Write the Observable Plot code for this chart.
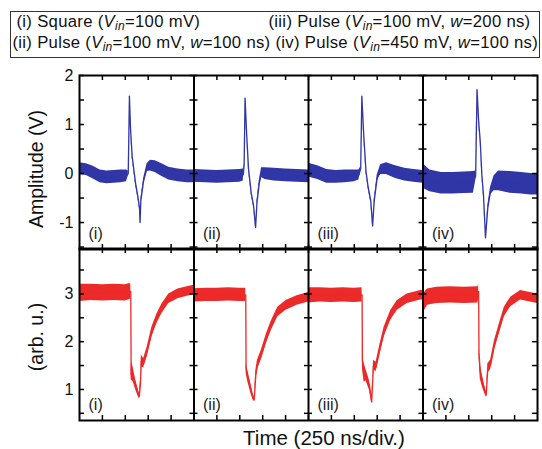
<!DOCTYPE html>
<html>
<head>
<meta charset="utf-8">
<script src="https://cdn.jsdelivr.net/npm/d3@7"></script>
<script src="https://cdn.jsdelivr.net/npm/@observablehq/plot@0.6"></script>
<style>
  html, body { margin: 0; padding: 0; background: #fff; overflow: hidden; width: 542px; height: 449px; }
  body { position: relative; font-family: "Liberation Sans", Arial, sans-serif; color: #111; }
  .abs { position: absolute; white-space: nowrap; }
  #legend { position: absolute; left: 10px; top: 11px; width: 528px; height: 45px; border: 1.5px solid #333; }
  #legend .t { position: absolute; font-size: 16.7px; line-height: 16.7px; white-space: nowrap; letter-spacing: 0.3px; }
  sub { font-size: 0.72em; position: relative; top: 0.28em; vertical-align: baseline; font-style: italic; }
  .plotbox { position: absolute; left: 0; }
</style>
</head>
<body>
<div id="legend">
  <div class="t" style="left:5.5px; top:2px">(i) Square (<i>V</i><sub>in</sub>=100 mV)</div>
  <div class="t" style="left:257.5px; top:2px">(iii) Pulse (<i>V</i><sub>in</sub>=100 mV, <i>w</i>=200 ns)</div>
  <div class="t" style="left:1.5px; top:23px">(ii) Pulse (<i>V</i><sub>in</sub>=100 mV, <i>w</i>=100 ns) (iv) Pulse (<i>V</i><sub>in</sub>=450 mV, <i>w</i>=100 ns)</div>
</div>
<div id="top" class="plotbox" style="top:60px"></div>
<div id="bot" class="plotbox" style="top:240px"></div>
<div class="abs" style="left:37px; top:169px; font-size:19.5px; line-height:19.5px; transform: translate(-50%,-50%) rotate(-90deg);">Amplitude (V)</div>
<div class="abs" style="left:37px; top:337px; font-size:19.5px; line-height:19.5px; transform: translate(-50%,-50%) rotate(-90deg);">(arb. u.)</div>
<div class="abs" style="left:324px; top:428px; font-size:20.5px; line-height:20.5px; transform: translateX(-50%);">Time (250 ns/div.)</div>
<script>
// ---------- data ----------
const panelLabels = ["(i)", "(ii)", "(iii)", "(iv)"];
const divisionsPerPanel = 5;           // 250 ns per division
const ampTickLabels = [-1, 0, 1, 2];
const arbTickLabels = [1, 2, 3];
const ampDomain = [-1.55, 2];
const arbDomain = [0.35, 3.95];

// each entry: [time (div), centre value, noise half-width]
const ampI = [
  [0, 0.10, 0.12], [0.3, 0.08, 0.12], [0.6, 0.02, 0.13], [0.9, -0.06, 0.13], [1.2, -0.08, 0.13],
  [1.5, -0.07, 0.13], [1.8, -0.06, 0.13], [2.05, -0.05, 0.12], [2.13, 0.0, 0.05], [2.18, 1.58, 0.02],
  [2.23, 0.9, 0.03], [2.30, 0.35, 0.03], [2.45, -0.2, 0.03], [2.56, -0.5, 0.03], [2.62, -0.7, 0.03],
  [2.645, -1.0, 0.02], [2.68, -0.55, 0.04], [2.8, -0.15, 0.05], [2.95, 0.12, 0.08], [3.1, 0.16, 0.11],
  [3.3, 0.14, 0.12], [3.6, 0.07, 0.13], [3.9, 0.0, 0.13], [4.3, -0.04, 0.13], [4.7, -0.06, 0.13], [5.0, -0.06, 0.13]
];
const ampII = [
  [0, -0.05, 0.13], [0.5, -0.06, 0.13], [1.0, -0.07, 0.13], [1.5, -0.06, 0.13], [2.0, -0.05, 0.13],
  [2.15, -0.03, 0.12], [2.19, 0.18, 0.03], [2.23, 1.54, 0.02], [2.3, 0.8, 0.03], [2.38, 0.1, 0.03],
  [2.5, -0.4, 0.03], [2.6, -0.65, 0.03], [2.69, -1.1, 0.02], [2.75, -0.6, 0.04], [2.85, -0.2, 0.06],
  [2.95, 0.02, 0.1], [3.1, 0.0, 0.12], [3.5, -0.02, 0.13], [4.0, -0.04, 0.13], [4.5, -0.05, 0.13], [5.0, -0.06, 0.13]
];
const ampIII = [
  [0, 0.07, 0.14], [0.4, 0.02, 0.14], [0.8, -0.06, 0.14], [1.2, -0.07, 0.13], [1.6, -0.06, 0.13],
  [2.0, -0.05, 0.12], [2.2, -0.03, 0.1], [2.28, 0.1, 0.04], [2.33, 1.58, 0.02], [2.41, 0.8, 0.03],
  [2.51, 0.05, 0.03], [2.61, -0.29, 0.03], [2.72, -0.56, 0.03], [2.8, -1.07, 0.02], [2.87, -0.56, 0.04],
  [3.0, -0.09, 0.06], [3.15, 0.08, 0.1], [3.4, 0.1, 0.12], [3.8, 0.03, 0.13], [4.2, -0.02, 0.13],
  [4.6, -0.05, 0.13], [5.0, -0.07, 0.13]
];
const ampIV = [
  [0, -0.05, 0.25], [0.3, -0.15, 0.22], [0.8, -0.2, 0.22], [1.3, -0.2, 0.22], [1.8, -0.19, 0.22],
  [2.2, -0.18, 0.22], [2.3, -0.05, 0.1], [2.36, 1.71, 0.03], [2.43, 1.07, 0.03], [2.5, 0.66, 0.03],
  [2.57, -0.02, 0.03], [2.64, -0.43, 0.03], [2.73, -1.31, 0.02], [2.83, -0.7, 0.05], [2.95, -0.36, 0.08],
  [3.1, -0.2, 0.15], [3.3, -0.15, 0.2], [3.8, -0.18, 0.22], [4.3, -0.2, 0.22], [4.7, -0.22, 0.22], [5.0, -0.22, 0.22]
];
const arbI = [
  [0, 3.02, 0.18], [0.5, 3.03, 0.17], [1.0, 3.02, 0.17], [1.5, 3.03, 0.17], [2.0, 3.02, 0.17],
  [2.2, 3.05, 0.17], [2.24, 3.05, 0.15], [2.255, 1.3, 0.1], [2.27, 1.4, 0.2], [2.35, 1.3, 0.15],
  [2.45, 1.1, 0.1], [2.55, 0.95, 0.08], [2.61, 0.85, 0.05], [2.66, 1.1, 0.1], [2.7, 1.6, 0.12],
  [2.8, 1.55, 0.1], [2.95, 1.78, 0.1], [3.16, 2.2, 0.1], [3.38, 2.48, 0.1], [3.6, 2.69, 0.1],
  [3.9, 2.9, 0.1], [4.3, 3.0, 0.1], [4.7, 3.05, 0.1], [5.0, 3.08, 0.1]
];
const arbII = [
  [0, 2.97, 0.14], [0.5, 2.98, 0.14], [1.0, 2.98, 0.14], [1.5, 2.99, 0.14], [2.0, 2.98, 0.14],
  [2.26, 2.98, 0.14], [2.275, 1.44, 0.1], [2.34, 1.3, 0.12], [2.48, 1.02, 0.1], [2.57, 0.85, 0.06],
  [2.63, 0.78, 0.04], [2.7, 1.3, 0.1], [2.77, 1.51, 0.1], [2.94, 1.72, 0.1], [3.16, 2.06, 0.1],
  [3.38, 2.34, 0.1], [3.66, 2.62, 0.1], [4.02, 2.76, 0.1], [4.5, 2.86, 0.1], [5.0, 2.93, 0.1]
];
const arbIII = [
  [0, 2.97, 0.16], [0.5, 2.98, 0.15], [1.0, 2.97, 0.15], [1.5, 2.98, 0.15], [2.0, 2.97, 0.15],
  [2.34, 2.98, 0.15], [2.355, 1.58, 0.15], [2.43, 1.35, 0.2], [2.51, 1.3, 0.12], [2.66, 1.09, 0.1],
  [2.76, 0.74, 0.04], [2.84, 1.51, 0.1], [2.95, 1.47, 0.1], [3.09, 1.78, 0.1], [3.3, 2.2, 0.1],
  [3.59, 2.55, 0.1], [3.88, 2.76, 0.1], [4.31, 2.9, 0.1], [4.9, 2.97, 0.1], [5.0, 2.97, 0.1]
];
const arbIV = [
  [0, 2.8, 0.2], [0.2, 2.93, 0.17], [0.6, 2.97, 0.17], [1.2, 2.98, 0.17], [1.8, 2.97, 0.17],
  [2.4, 2.98, 0.17], [2.43, 3.05, 0.15], [2.445, 1.78, 0.1], [2.5, 1.37, 0.15], [2.6, 1.16, 0.12],
  [2.76, 0.88, 0.05], [2.83, 1.44, 0.1], [2.95, 1.51, 0.1], [3.12, 1.92, 0.1], [3.33, 2.27, 0.1],
  [3.55, 2.62, 0.1], [3.83, 2.83, 0.1], [4.26, 2.97, 0.1], [5.0, 2.9, 0.1]
];

// ---------- build tables ----------
function table(panels) {
  return panels.flatMap((arr, p) => arr.map(([t, v, w]) => ({
    panel: p, x: p * divisionsPerPanel + t, y: v, lo: v - w, hi: v + w
  })));
}
const ampData = table([ampI, ampII, ampIII, ampIV]);
const arbData = table([arbI, arbII, arbIII, arbIV]);

const nPanels = panelLabels.length;
const xMax = nPanels * divisionsPerPanel;
const xTicks = d3.range(1, xMax);
const boundariesInner = d3.range(1, nPanels).map(i => i * divisionsPerPanel);
const panelStarts = panelLabels.map((label, i) => ({label, x: i * divisionsPerPanel}));

const W = 542, ML = 79, MR = 5;
const plotW = W - ML - MR;
const TICK = 5;

function makePlot({data, color, domain, tickLabels, marginTop, marginBottom, plotH}) {
  const minor = d3.range(Math.ceil(domain[0] * 2) / 2, domain[1] + 1e-9, 0.5);
  const inner = boundariesInner.flatMap(b => minor.map(t => ({b, t})));
  return Plot.plot({
    width: W,
    height: marginTop + plotH + marginBottom,
    marginLeft: ML, marginRight: MR, marginTop, marginBottom,
    style: {background: "none", overflow: "visible", fontFamily: "Liberation Sans, Arial, sans-serif", color: "#111"},
    x: {domain: [0, xMax], axis: null},
    y: {domain, axis: null},
    marks: [
      Plot.areaY(data, {x: "x", y1: "lo", y2: "hi", z: "panel", fill: color, curve: "linear"}),
      Plot.line(data, {x: "x", y: "y", z: "panel", stroke: color, strokeWidth: 1.3}),
      Plot.ruleX(boundariesInner, {stroke: "#000", strokeWidth: 2}),
      Plot.ruleX(xTicks, {insetBottom: plotH - TICK, stroke: "#000", strokeWidth: 1.5}),
      Plot.ruleX(xTicks, {insetTop: plotH - TICK, stroke: "#000", strokeWidth: 1.5}),
      Plot.ruleY(minor, {insetRight: plotW - TICK, stroke: "#000", strokeWidth: 1.5}),
      Plot.ruleY(minor, {insetLeft: plotW - TICK, stroke: "#000", strokeWidth: 1.5}),
      Plot.ruleY(inner, {y: "t", x1: "b", x2: "b", insetLeft: -4, insetRight: -4, stroke: "#000", strokeWidth: 1.5}),
      Plot.frame({stroke: "#000", strokeWidth: 2}),
      Plot.axisY(tickLabels, {tickSize: 0, tickPadding: 6, fontSize: 16, tickFormat: d => d < 0 ? "-" + Math.abs(d) : String(d)}),
      Plot.text(panelStarts, {x: "x", text: "label", frameAnchor: "bottom", textAnchor: "start", lineAnchor: "bottom", dx: 9, dy: -11, fontSize: 16, fill: "#222"})
    ]
  });
}

document.getElementById("top").append(makePlot({
  data: ampData, color: "#3036a6", domain: ampDomain, tickLabels: ampTickLabels,
  marginTop: 15, marginBottom: 2, plotH: 174
}));
document.getElementById("bot").append(makePlot({
  data: arbData, color: "#ec2a2a", domain: arbDomain, tickLabels: arbTickLabels,
  marginTop: 8, marginBottom: 29, plotH: 172
}));
</script>
</body>
</html>
